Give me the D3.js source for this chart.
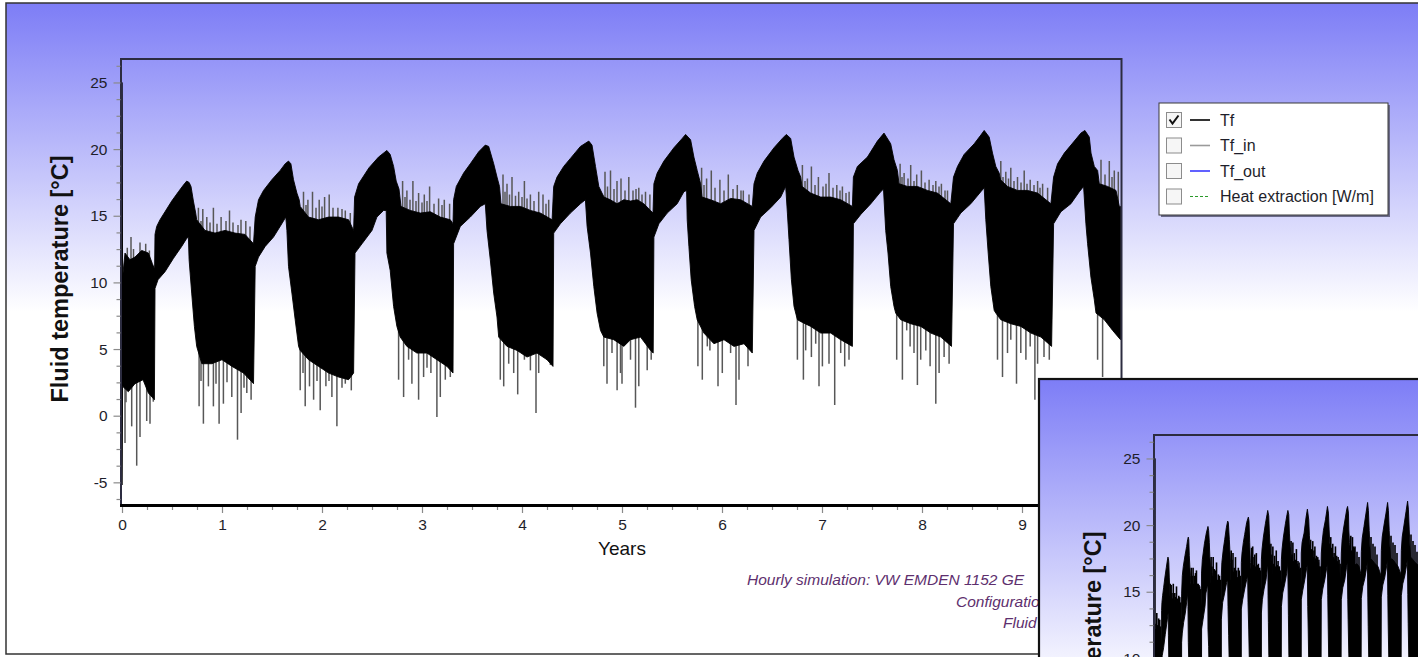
<!DOCTYPE html>
<html><head><meta charset="utf-8">
<script src="https://cdn.jsdelivr.net/npm/d3@7"></script>
<style>
html,body{margin:0;padding:0;background:#fff;overflow:hidden}
svg{display:block;font-family:"Liberation Sans",Arial,sans-serif}
</style></head><body>
<svg id="c" width="1418" height="657"></svg>
<script>
// ---------- data ----------
const yearTicks = [0,1,2,3,4,5,6,7,8,9];
const tempTicks = [-5,0,5,10,15,20,25];

// upper envelope of the hourly Tf band [year, °C]
const upperEnv = [
 [0,25.0],[0.006,10.4],[0.03,12.2],[0.08,11.7],[0.13,11.9],[0.197,12.4],[0.264,12.2],[0.304,11.4],[0.326,11.0],
 [0.330,13.6],[0.347,14.2],[0.38,14.7],[0.43,15.3],[0.497,16.1],[0.564,16.8],[0.614,17.3],[0.647,17.6],[0.671,17.5],
 [0.69,17.2],[0.714,16.1],[0.737,15.2],
 [0.747,14.7],[0.83,13.9],[0.93,13.7],[1.03,13.9],[1.13,13.7],[1.23,13.6],[1.315,12.9],
 [1.332,14.9],[1.365,16.2],[1.415,16.9],[1.498,17.7],[1.582,18.4],[1.632,18.9],[1.665,19.1],[1.689,18.9],
 [1.715,17.7],[1.749,16.7],[1.772,16.2],
 [1.782,15.7],[1.865,14.9],[1.966,14.7],[2.066,14.9],[2.166,14.9],[2.266,14.7],[2.316,13.9],
 [2.326,16.4],[2.366,17.4],[2.47,18.6],[2.565,19.4],[2.649,19.9],[2.682,19.6],
 [2.716,18.7],[2.742,17.6],[2.77,17.0],
 [2.79,15.7],[2.882,15.4],[2.983,15.2],[3.083,15.3],[3.183,14.9],[3.283,14.7],[3.31,14.4],
 [3.316,16.2],[3.343,17.2],[3.416,18.2],[3.483,18.9],[3.567,19.8],[3.633,20.3],[3.667,20.2],
 [3.717,18.9],[3.75,17.9],[3.775,17.2],
 [3.79,15.9],[3.883,15.7],[3.984,15.7],[4.084,15.4],[4.184,15.2],[4.301,14.7],
 [4.317,17.2],[4.35,17.9],[4.417,18.7],[4.484,19.3],[4.584,20.2],[4.668,20.6],[4.70,20.3],
 [4.735,18.7],[4.768,17.2],[4.80,16.7],
 [4.82,16.4],[4.883,16.2],[4.95,15.9],[5.018,16.2],[5.085,16.1],[5.152,16.2],[5.218,15.9],[5.285,15.4],[5.31,15.2],
 [5.319,17.4],[5.352,18.2],[5.419,19.1],[5.519,20.1],[5.602,20.8],[5.636,21.1],[5.686,20.7],
 [5.719,19.4],[5.752,18.4],[5.786,17.4],
 [5.80,16.4],[5.886,16.2],[5.986,15.9],[6.086,16.3],[6.186,16.2],[6.303,15.7],
 [6.32,17.4],[6.353,18.2],[6.42,19.1],[6.52,20.1],[6.603,20.8],[6.643,21.1],[6.687,20.8],
 [6.72,19.4],[6.76,18.4],[6.787,17.9],
 [6.80,17.2],[6.887,16.7],[6.987,16.4],[7.087,16.4],[7.187,16.2],[7.304,15.7],
 [7.314,17.9],[7.354,18.7],[7.454,19.4],[7.554,20.6],[7.62,21.2],[7.687,20.4],
 [7.72,19.2],[7.754,18.4],
 [7.77,17.4],[7.854,17.2],[7.954,17.2],[8.054,16.9],[8.154,16.7],[8.288,15.9],
 [8.315,17.9],[8.355,18.7],[8.421,19.6],[8.522,20.4],[8.588,21.05],[8.622,21.4],[8.672,20.9],
 [8.705,19.7],[8.738,18.7],[8.772,18.2],
 [8.785,17.7],[8.855,17.2],[8.955,16.9],[9.055,16.9],[9.156,16.7],[9.289,15.9],
 [9.316,17.9],[9.356,18.9],[9.423,19.7],[9.523,20.6],[9.589,21.2],[9.629,21.4],[9.673,20.9],
 [9.69,19.7],[9.723,18.7],[9.756,18.4],
 [9.773,17.4],[9.856,17.2],[9.94,16.9],[9.973,15.7],[9.985,15.7]
];
// lower envelope of the hourly Tf band [year, °C]
const lowerEnv = [
 [0,-5.2],[0.006,2.2],[0.063,1.8],[0.13,2.4],[0.21,2.7],[0.264,1.7],[0.324,1.2],
 [0.330,9.55],[0.36,10.2],[0.43,10.8],[0.514,11.8],[0.597,12.7],[0.647,13.3],[0.664,13.4],
 [0.671,11.7],[0.697,9.2],[0.724,6.7],[0.747,5.2],
 [0.798,3.9],[0.898,3.9],[1.0,4.2],[1.10,3.7],[1.215,3.2],[1.315,2.4],
 [1.332,11.2],[1.365,11.9],[1.432,12.7],[1.515,13.4],[1.598,14.4],[1.638,14.9],
 [1.649,13.9],[1.665,11.2],[1.699,9.2],[1.732,7.2],[1.766,5.2],
 [1.782,4.9],[1.865,4.2],[1.966,3.7],[2.066,3.2],[2.166,2.9],[2.266,2.7],[2.316,3.2],
 [2.33,12.2],[2.40,12.9],[2.50,13.9],[2.549,14.9],[2.616,15.4],[2.642,15.4],
 [2.649,12.2],[2.682,10.9],[2.716,8.2],[2.749,6.7],
 [2.782,5.9],[2.849,5.2],[2.949,4.7],[3.049,4.7],[3.149,4.2],[3.25,3.7],[3.31,3.2],
 [3.316,12.9],[3.383,14.2],[3.483,14.9],[3.583,15.7],[3.633,15.9],
 [3.65,13.9],[3.683,11.7],[3.717,9.2],[3.75,7.4],
 [3.767,5.9],[3.85,5.2],[3.95,4.9],[4.05,4.4],[4.15,4.7],[4.25,4.2],[4.31,3.7],
 [4.317,13.7],[4.384,14.4],[4.484,15.2],[4.584,15.9],[4.634,16.2],
 [4.651,14.2],[4.685,12.2],[4.718,9.7],[4.751,7.7],[4.785,6.4],
 [4.818,5.9],[4.918,5.7],[5.018,5.2],[5.085,5.7],[5.185,5.9],[5.285,4.9],[5.312,4.7],
 [5.319,13.4],[5.369,14.4],[5.452,15.2],[5.552,15.9],[5.619,16.8],[5.646,16.9],
 [5.652,14.7],[5.669,12.7],[5.692,10.2],[5.726,8.2],[5.752,7.2],
 [5.819,6.2],[5.919,5.4],[6.02,5.7],[6.12,5.2],[6.22,5.4],[6.303,4.7],
 [6.32,13.9],[6.386,14.9],[6.487,15.6],[6.587,16.4],[6.637,17.2],
 [6.654,15.2],[6.67,13.2],[6.694,10.2],[6.72,8.2],[6.754,7.2],
 [6.804,7.0],[6.887,6.7],[6.987,6.2],[7.087,6.2],[7.187,5.7],[7.304,5.2],
 [7.314,14.4],[7.388,15.1],[7.488,15.9],[7.587,16.8],[7.615,17.0],
 [7.637,13.9],[7.66,12.2],[7.687,9.7],[7.72,8.2],[7.737,7.7],
 [7.787,7.2],[7.887,6.9],[7.987,6.7],[8.088,6.2],[8.188,5.9],[8.295,5.2],
 [8.315,14.4],[8.388,15.2],[8.488,15.9],[8.588,16.8],[8.622,17.1],
 [8.638,14.7],[8.662,12.2],[8.688,9.7],[8.722,7.9],
 [8.738,7.7],[8.788,7.2],[8.888,6.9],[8.988,6.7],[9.089,6.2],[9.189,5.9],[9.296,5.2],
 [9.316,14.4],[9.389,15.3],[9.489,15.9],[9.573,16.8],[9.616,17.2],
 [9.639,14.4],[9.656,12.9],[9.689,10.4],[9.723,8.7],
 [9.74,7.7],[9.823,7.2],[9.906,6.4],[9.985,5.7]
];
// isolated hourly peaks above the band [year, °C]
const upSpikes = [
 [0.053,12.6],[0.09,13.4],[0.115,12.5],[0.18,13.0],[0.237,12.9],[0.274,12.4],
 [0.764,15.6],[0.79,14.6],[0.808,15.5],[0.848,14.9],[0.88,14.5],[0.914,15.6],[0.95,14.4],[0.991,14.9],[1.04,14.6],[1.075,15.4],[1.11,14.5],[1.16,14.3],[1.19,14.7],[1.238,14.6],[1.28,14.2],
 [1.815,16.8],[1.84,15.8],[1.859,16.2],[1.905,16.8],[1.94,15.6],[1.972,16.2],[2.0,15.7],[2.026,16.4],[2.072,16.6],[2.11,15.6],[2.159,15.6],[2.2,15.5],[2.233,15.4],[2.283,15.2],
 [2.806,17.6],[2.83,16.4],[2.849,16.9],[2.88,16.2],[2.909,17.6],[2.94,16.1],[2.966,16.7],[3.0,16.0],[3.023,16.6],[3.05,16.1],[3.076,17.2],[3.12,15.9],[3.166,16.3],[3.2,15.8],[3.223,16.2],[3.276,15.9],
 [3.81,18.1],[3.83,16.8],[3.85,17.4],[3.875,16.6],[3.90,17.9],[3.935,16.5],[3.967,16.8],[4.0,16.4],[4.024,17.6],[4.05,16.3],[4.084,16.6],[4.12,16.1],[4.167,16.8],[4.21,16.6],[4.24,15.9],[4.267,16.2],
 [4.83,18.3],[4.855,17.2],[4.885,18.4],[4.92,17.0],[4.95,17.6],[4.99,17.8],[5.03,16.9],[5.068,17.9],[5.11,16.9],[5.14,17.0],[5.168,17.1],[5.2,16.6],[5.235,16.8],[5.279,16.6],
 [5.796,18.6],[5.82,17.3],[5.846,17.8],[5.893,18.4],[5.93,17.1],[5.979,17.7],[6.02,16.9],[6.063,18.1],[6.11,17.0],[6.153,17.3],[6.19,16.9],[6.213,16.9],[6.27,16.6],
 [6.804,18.8],[6.83,17.6],[6.854,17.8],[6.894,18.7],[6.93,17.3],[6.964,17.9],[7.01,17.2],[7.04,17.4],[7.07,18.2],[7.11,17.1],[7.148,17.3],[7.18,16.9],[7.204,17.2],[7.24,16.7],[7.271,16.8],
 [7.781,18.9],[7.80,17.9],[7.821,18.2],[7.86,17.8],[7.887,18.8],[7.92,17.6],[7.947,18.1],[7.994,18.4],[8.03,17.5],[8.071,17.7],[8.11,17.3],[8.138,17.6],[8.17,17.2],[8.194,17.4],[8.23,16.9],[8.255,16.9],
 [8.788,19.1],[8.81,17.9],[8.838,18.3],[8.865,17.8],[8.888,18.6],[8.92,17.6],[8.955,17.9],[8.99,17.5],[9.022,18.4],[9.05,17.4],[9.082,17.7],[9.12,17.3],[9.156,17.6],[9.18,17.1],[9.206,17.4],[9.256,17.1],
 [9.79,19.2],[9.83,18.1],[9.873,19.1],[9.90,17.9],[9.923,18.4],[9.963,18.3]
];
// isolated hourly minima below the band [year, °C]
const downSpikes = [
 [0.03,-2.05],[0.04,1.0],[0.097,-0.8],[0.147,-3.75],[0.18,-1.6],[0.247,-0.4],[0.28,-0.6],[0.313,1.05],
 [0.771,0.7],[0.79,2.6],[0.814,-0.6],[0.864,2.2],[0.914,0.7],[0.94,2.4],[0.971,-0.6],[1.014,0.9],[1.05,2.5],[1.098,1.4],[1.155,-1.8],[1.191,0.2],[1.22,2.1],[1.248,1.7],[1.291,1.2],
 [1.782,1.9],[1.81,3.2],[1.832,0.7],[1.875,2.2],[1.916,1.2],[1.95,2.6],[1.982,0.4],[2.039,2.2],[2.07,2.6],[2.099,1.4],[2.149,-0.8],[2.2,2.1],[2.233,2.4],[2.293,1.9],
 [2.766,2.7],[2.816,1.4],[2.866,4.2],[2.899,2.4],[2.966,1.2],[3.016,2.9],[3.05,3.6],[3.089,3.2],[3.149,-0.1],[3.183,1.4],[3.233,2.7],[3.283,2.9],
 [3.783,2.7],[3.817,2.2],[3.867,3.9],[3.917,3.2],[3.957,1.6],[4.024,4.2],[4.084,3.4],[4.14,0.2],[4.167,3.2],[4.25,4.2],[4.284,3.8],
 [4.818,3.7],[4.85,2.4],[4.90,4.7],[4.951,1.9],[4.985,3.2],[5.0,2.4],[5.085,4.2],[5.135,0.6],[5.168,2.2],[5.252,3.4],[5.292,4.2],
 [5.759,3.7],[5.803,2.7],[5.853,5.2],[5.879,4.9],[5.96,2.2],[6.003,3.2],[6.086,4.7],[6.14,0.8],[6.17,2.7],[6.26,3.7],
 [6.754,4.2],[6.814,2.7],[6.837,4.9],[6.894,4.4],[6.937,5.4],[6.97,2.2],[7.004,3.7],[7.07,3.9],[7.127,0.8],[7.187,4.7],[7.227,3.7],[7.27,4.2],
 [7.747,4.2],[7.804,2.7],[7.847,6.4],[7.881,5.2],[7.92,4.7],[7.954,2.3],[7.987,4.2],[8.038,4.9],[8.081,3.7],[8.138,0.9],[8.171,3.2],[8.221,4.4],[8.271,3.9],
 [8.755,4.2],[8.805,2.9],[8.855,4.7],[8.888,5.7],[8.945,2.4],[8.988,4.7],[9.039,4.2],[9.082,5.2],[9.129,1.2],[9.156,3.9],[9.22,4.4],[9.273,4.2],
 [9.756,4.2],[9.806,2.9]
];
// second (longer) simulation window, extra years visible at the right edge
const insetUpperExtra = [
 [9.98,17.0],[10.1,17.1],[10.2,16.9],[10.3,16.3],
 [10.316,18.0],[10.36,19.0],[10.45,19.9],[10.55,20.9],[10.63,21.7],[10.67,21.1],[10.71,19.6],[10.75,18.3],[10.78,17.5],
 [10.9,17.3],[11.0,17.1],[11.15,16.9],[11.3,16.2],
 [11.316,18.1],[11.36,19.1],[11.45,20.0],[11.55,20.9],[11.63,21.7],[11.67,21.1],[11.71,19.6],[11.75,18.3],[11.78,17.5],
 [11.9,17.4],[12.0,17.2],[12.15,16.9],[12.3,16.3],
 [12.316,18.1],[12.36,19.1],[12.45,20.0],[12.55,21.0],[12.63,21.8],[12.67,21.2],[12.71,19.7],[12.75,18.4],[12.78,17.6],
 [12.9,17.4],[13.0,17.2],[13.15,17.0],[13.3,16.3]
];
const insetLowerExtra = [
 [9.98,6.0],[10.1,5.9],[10.2,5.6],[10.3,5.3],
 [10.316,14.5],[10.39,15.4],[10.49,16.0],[10.59,16.9],[10.62,17.3],[10.64,14.6],[10.66,12.4],[10.69,9.8],[10.72,8.0],[10.74,7.7],
 [10.9,7.0],[11.0,6.7],[11.1,6.3],[11.3,5.4],
 [11.316,14.6],[11.39,15.5],[11.49,16.1],[11.59,17.0],[11.62,17.4],[11.64,14.7],[11.66,12.5],[11.69,9.9],[11.72,8.1],[11.74,7.8],
 [11.9,7.1],[12.0,6.8],[12.1,6.4],[12.3,5.5],
 [12.316,14.7],[12.39,15.6],[12.49,16.2],[12.59,17.1],[12.62,17.5],[12.64,14.8],[12.66,12.6],[12.69,10.0],[12.72,8.2],[12.74,7.9],
 [12.9,7.2],[13.0,6.9],[13.1,6.5],[13.3,5.6]
];
const insetUpSpikesExtra = [
 [10.0,18.4],[10.1,18.0],[10.2,17.6],[10.8,19.1],[10.9,18.6],[11.0,18.4],[11.1,17.8],
 [11.8,19.2],[11.9,18.7],[12.0,18.5],[12.1,17.9],[12.8,19.3],[12.9,18.8],[13.0,18.5],[13.1,18.0]
];

const legendLabels = ["Tf","Tf_in","Tf_out","Heat extraction [W/m]"];
const legendColors = ["#000000","#9a9a9a","#3a3aff","#2a9a2a"];
const legendDash = [null,null,null,"3,2"];
const legendChecked = [true,false,false,false];
const footnoteLines = ["Hourly simulation: VW EMDEN 1152 GE","Configuration","Fluid"];
const yTitle = "Fluid temperature [°C]";
const xTitle = "Years";

// ---------- drawing ----------
const svg = d3.select("#c");
const defs = svg.append("defs");
const grad = defs.append("linearGradient").attr("id","bg")
  .attr("gradientUnits","userSpaceOnUse").attr("x1",0).attr("y1",3).attr("x2",0).attr("y2",312);
grad.append("stop").attr("offset",0).attr("stop-color","#7d7df6");
grad.append("stop").attr("offset",1).attr("stop-color","#ffffff");
defs.append("clipPath").attr("id","plotclip").append("rect")
  .attr("x",121).attr("y",59).attr("width",1000.5).attr("height",446);

svg.append("rect").attr("width",1418).attr("height",657).attr("fill","#ffffff");

const fmt = d => String(d);

function drawWindow(g, xDomain, up, lo, spUp, spDown, opts){
  g.append("rect").attr("x",6).attr("y",3).attr("width",1600).attr("height",651)
    .attr("fill","url(#bg)").attr("stroke",opts.border).attr("stroke-width",opts.borderW);

  const x = d3.scaleLinear().domain(xDomain).range([122,1122]);
  const y = d3.scaleLinear().domain([-6.7,26.76]).range([505,59]);

  // data
  const data = g.append("g").attr("clip-path","url(#plotclip)");
  const base = 9;
  data.selectAll("line.su").data(spUp).join("line").attr("class","su")
    .attr("x1",d=>x(d[0])).attr("x2",d=>x(d[0]))
    .attr("y1",y(base)).attr("y2",d=>y(d[1]))
    .attr("stroke",opts.spikeColor).attr("stroke-width",opts.spikeW);
  data.selectAll("line.sd").data(spDown).join("line").attr("class","sd")
    .attr("x1",d=>x(d[0])).attr("x2",d=>x(d[0]))
    .attr("y1",y(base)).attr("y2",d=>y(d[1]))
    .attr("stroke",opts.spikeColor).attr("stroke-width",opts.spikeW);
  const poly = up.concat(lo.slice().reverse());
  const line = d3.line().x(d=>x(d[0])).y(d=>y(d[1]));
  data.append("path").attr("d", line(poly)+"Z")
    .attr("fill","#000").attr("stroke","#000").attr("stroke-width",0.9).attr("stroke-linejoin","round");

  // frame
  g.append("rect").attr("x",121).attr("y",59).attr("width",1000.5).attr("height",446)
    .attr("fill","none").attr("stroke","#2c2c40").attr("stroke-width",2);
  g.append("line").attr("x1",120).attr("x2",1122).attr("y1",505.5).attr("y2",505.5)
    .attr("stroke","#000").attr("stroke-width",3);

  // y axis
  const majorY = g.append("g").attr("transform","translate(120.5,0)")
    .call(d3.axisLeft(y).tickValues(tempTicks).tickSize(7).tickPadding(6).tickFormat(fmt));
  const minorVals = d3.range(-6.25, 26.3, 1.25).filter(v => !tempTicks.includes(v));
  const minorY = g.append("g").attr("transform","translate(120.5,0)")
    .call(d3.axisLeft(y).tickValues(minorVals).tickSize(4).tickFormat(""));
  // x axis
  const majorX = g.append("g").attr("transform","translate(0,507)")
    .call(d3.axisBottom(x).tickValues(opts.xTicks).tickSize(6).tickPadding(6).tickFormat(fmt));
  const minorX = g.append("g").attr("transform","translate(0,507)")
    .call(d3.axisBottom(x).tickValues(opts.xMinor).tickSize(3).tickFormat(""));
  [majorY,minorY,majorX,minorX].forEach(a=>{
    a.select(".domain").remove();
    a.selectAll(".tick line").attr("stroke","#8a8a8a").attr("stroke-width",1.2);
    a.selectAll(".tick text").attr("fill","#1e1e2a").attr("font-size","15.5px")
      .attr("font-family","'Liberation Sans',Arial,sans-serif");
  });

  g.append("text").attr("transform","translate(60,279) rotate(-90)")
    .attr("text-anchor","middle").attr("dominant-baseline","central")
    .attr("font-size","23.5px").attr("font-weight","bold").attr("fill","#111")
    .text(yTitle);
  if (opts.showXTitle) {
    g.append("text").attr("x",622).attr("y",548).attr("text-anchor","middle")
      .attr("dominant-baseline","central").attr("font-size","19px").attr("fill","#111")
      .text(xTitle);
  }
}

// main window
const mainG = svg.append("g");
drawWindow(mainG,[0,10],upperEnv,lowerEnv,upSpikes,downSpikes,{
  border:"#333",borderW:1.5,xTicks:yearTicks,showXTitle:true,
  spikeColor:"#575757",spikeW:1.5,
  xMinor:d3.range(0.25,10,0.25).filter(v=>v%1!==0)});

// footnote
const footX = [747,956,1003], footY = [579,601,622];
mainG.selectAll("text.foot").data(footnoteLines).join("text").attr("class","foot")
  .attr("x",(d,i)=>footX[i]).attr("y",(d,i)=>footY[i]).attr("dominant-baseline","central")
  .attr("font-size","15.5px").attr("font-style","italic").attr("fill","#5e2f6e").text(d=>d);

// legend
const lg = mainG.append("g");
lg.append("rect").attr("x",1161).attr("y",105).attr("width",229).attr("height",112).attr("fill","#6a6a8a");
lg.append("rect").attr("x",1159).attr("y",103).attr("width",229).attr("height",112)
  .attr("fill","#fff").attr("stroke","#3a3a3a").attr("stroke-width",1);
const rows = lg.selectAll("g.row").data(legendLabels).join("g").attr("class","row")
  .attr("transform",(d,i)=>`translate(0,${120+i*25.5})`);
rows.append("rect").attr("x",1166.5).attr("y",-7.5).attr("width",15).attr("height",15)
  .attr("fill","#f6f6f6").attr("stroke","#8c8c8c").attr("stroke-width",1);
rows.filter((d,i)=>legendChecked[i]).append("path")
  .attr("d","M1169.5,-0.5 L1172.5,3.5 L1178.5,-4.5").attr("fill","none")
  .attr("stroke","#111").attr("stroke-width",2);
rows.append("line").attr("x1",1190).attr("x2",1210).attr("y1",0).attr("y2",0)
  .attr("stroke",(d,i)=>legendColors[i]).attr("stroke-width",(d,i)=>i===3?1.2:1.6)
  .attr("stroke-dasharray",(d,i)=>legendDash[i]);
rows.append("text").attr("x",1220).attr("y",0).attr("dominant-baseline","central")
  .attr("font-size","16px").attr("fill","#1e1e2a").text(d=>d);

// overlapping second window (longer simulation)
const insetG = svg.append("g").attr("transform","translate(1033,376)");
drawWindow(insetG,[0,50],
  upperEnv.filter(d=>d[0]<9.95).concat(insetUpperExtra),
  lowerEnv.filter(d=>d[0]<9.95).concat(insetLowerExtra),
  upSpikes.concat(insetUpSpikesExtra), downSpikes,
  {border:"#111",borderW:2.2,xTicks:[0,10,20,30,40,50],xMinor:[],showXTitle:false,
   spikeColor:"#000",spikeW:1.6});
</script>
</body></html>
